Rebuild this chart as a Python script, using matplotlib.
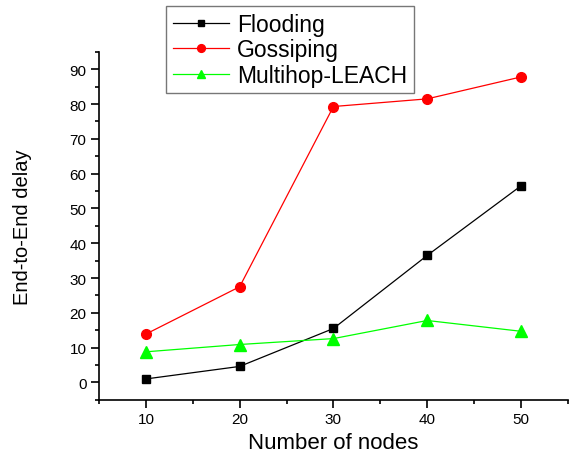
import matplotlib
matplotlib.use("Agg")
import matplotlib.pyplot as plt

nodes = [10, 20, 30, 40, 50]
flooding = [1.0, 4.6, 15.5, 36.5, 56.5]
gossiping = [13.9, 27.5, 79.3, 81.5, 87.8]
multihop = [8.8, 10.9, 12.6, 17.8, 14.7]

plt.rcParams['font.family'] = ['Liberation Sans', 'DejaVu Sans']

fig = plt.figure(figsize=(5.69, 4.56), dpi=100)
ax = fig.add_axes([0.174, 0.121, 0.824, 0.763])

ax.plot(nodes, flooding, color='black', lw=0.9, marker='s', ms=6, label='Flooding')
ax.plot(nodes, gossiping, color='red', lw=0.9, marker='o', ms=7, label='Gossiping')
ax.plot(nodes, multihop, color='#00ff00', lw=0.9, marker='^', ms=8, label='Multihop-LEACH')

ax.set_xlim(5, 55)
ax.set_ylim(-5, 95)
ax.set_xticks([10, 20, 30, 40, 50])
ax.set_xticks([5, 15, 25, 35, 45, 55], minor=True)
ax.set_yticks(range(0, 91, 10))
ax.set_yticks(range(-5, 96, 10), minor=True)
for s in ['top', 'right']:
    ax.spines[s].set_visible(False)
for s in ['left', 'bottom']:
    ax.spines[s].set_linewidth(1.2)
ax.tick_params(which='major', direction='out', length=6, width=1.2, labelsize=11,
               colors='black', pad=3)
ax.tick_params(which='minor', direction='out', length=3, width=1.2)

ax.set_xlabel('Number of nodes', fontsize=16)
ax.set_ylabel('End-to-End delay', fontsize=14.5)
ax.yaxis.set_label_coords(-0.143, 0.5)

leg = ax.legend(loc='upper left', bbox_to_anchor=(0.143, 1.1317), borderaxespad=0,
                fontsize=16.5, frameon=True, fancybox=False, edgecolor='#555555',
                handlelength=2.45, borderpad=0.3, labelspacing=0.1, handletextpad=0.35,
                markerscale=0.8)
leg.get_frame().set_linewidth(1.0)

fig.savefig('out.png', dpi=100)
